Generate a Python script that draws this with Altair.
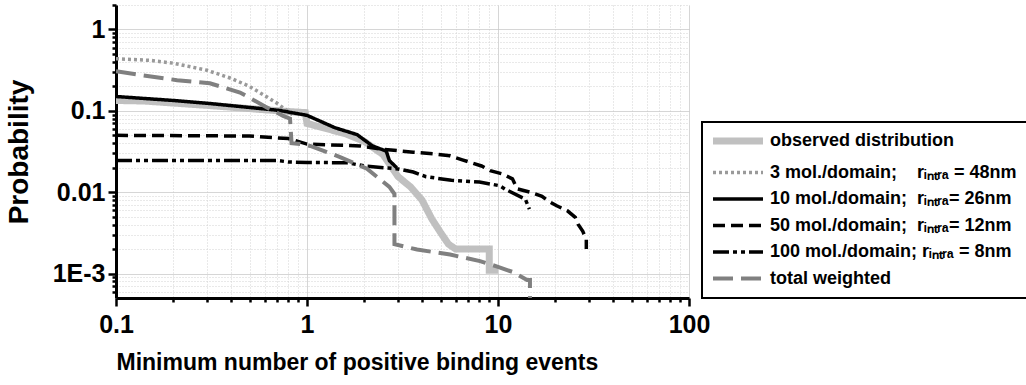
import altair as alt
import pandas as pd

NB = "\u00a0"
RI = "r\u1d62\u2099\u209c\u1d63\u2090"

# ---------------- data ----------------
names = [
    "observed distribution",
    "3 mol./domain;" + NB * 4 + RI + " = 48nm",
    "10 mol./domain;" + NB * 2 + RI + "= 26nm",
    "50 mol./domain;" + NB * 2 + RI + "= 12nm",
    "100 mol./domain; " + RI + " = 8nm",
    "total weighted",
]

obs_x = [0.1, 0.14, 0.31, 0.57, 0.81, 0.98, 1.0, 1.05, 1.6, 2.0, 2.5, 3.0, 3.5, 4.0, 4.5, 5.0, 5.5, 6.0, 9.0, 9.0, 10.0]
obs_y = [0.134, 0.132, 0.116, 0.104, 0.098, 0.095, 0.070, 0.068, 0.052, 0.042, 0.029, 0.0155, 0.0115, 0.0080, 0.0047, 0.0032, 0.0023, 0.0020, 0.0020, 0.0011, 0.0011]

m3_x = [0.1, 0.15, 0.2, 0.3, 0.4, 0.5, 0.6, 0.7, 0.8, 0.85]
m3_y = [0.437, 0.418, 0.385, 0.315, 0.251, 0.200, 0.154, 0.123, 0.097, 0.088]

m10_x = [0.1, 0.2, 0.31, 0.5, 0.72, 1.0, 1.4, 1.83, 2.2, 2.6, 2.7, 2.95]
m10_y = [0.150, 0.134, 0.123, 0.110, 0.101, 0.088, 0.062, 0.051, 0.037, 0.032, 0.0244, 0.020]

m50_x = [0.1, 0.5, 0.8, 1.0, 1.9, 2.4, 3.6, 4.6, 5.6, 6.5, 8.2, 9.1, 10.5, 11.9, 12.6, 14.7, 17.0, 18.3, 20.3, 23.1, 25.4, 26.3, 27.8, 29.0, 29.0]
m50_y = [0.050, 0.049, 0.0456, 0.039, 0.037, 0.034, 0.031, 0.0296, 0.028, 0.025, 0.021, 0.0184, 0.0168, 0.0146, 0.011, 0.0100, 0.0089, 0.0078, 0.0068, 0.0059, 0.0049, 0.0040, 0.0033, 0.0026, 0.0020]

m100_x = [0.1, 0.7, 0.8, 1.0, 1.62, 2.0, 3.0, 3.6, 4.2, 5.7, 8.0, 9.3, 10.2, 10.9, 13.9, 14.6]
m100_y = [0.0245, 0.0245, 0.0235, 0.0232, 0.0230, 0.021, 0.0193, 0.0177, 0.0155, 0.0140, 0.0133, 0.0125, 0.0120, 0.0109, 0.0082, 0.0062]

tot_x = [0.1, 0.138, 0.209, 0.31, 0.446, 0.603, 0.75, 0.815, 0.83, 0.92, 1.04, 1.49, 2.06, 2.7, 2.87, 2.87, 3.77, 5.61, 8.05, 10, 12, 14.2, 14.7, 14.7]
tot_y = [0.306, 0.273, 0.238, 0.218, 0.168, 0.113, 0.0866, 0.080, 0.040, 0.039, 0.037, 0.027, 0.0194, 0.0116, 0.0095, 0.0023, 0.00197, 0.00171, 0.00142, 0.00121, 0.00104, 0.00083, 0.00083, 0.0005]

series_x = [obs_x, m3_x, m10_x, m50_x, m100_x, tot_x]
series_y = [obs_y, m3_y, m10_y, m50_y, m100_y, tot_y]

colors = ["#c0c0c0", "#9a9a9a", "#000000", "#000000", "#000000", "#808080"]
widths = [7, 3.5, 3.5, 3.5, 3.5, 4]
dashes = [[1, 0], [3, 3], [1, 0], [12, 6], [16, 4, 4, 4, 4, 4], [20, 8]]

x_major = [0.1, 1, 10, 100]
x_major_labels = ["0.1", "1", "10", "100"]
y_major = [0.001, 0.01, 0.1, 1]
y_major_labels = ["1E-3", "0.01", "0.1", "1"]

x_ticks = sorted(set([d * m for d in [0.1, 1, 10] for m in range(1, 10)] + [100]))
y_ticks = sorted(set([0.0001 * m for m in range(6, 10)] + [d * m for d in [0.001, 0.01, 0.1] for m in range(1, 10)] + [1, 2]))

rows = []
idx = 0
for name, xs, ys in zip(names, series_x, series_y):
    for xv, yv in zip(xs, ys):
        rows.append({"series": name, "x": xv, "y": yv, "idx": idx})
        idx += 1
df = pd.DataFrame(rows)


def label_expr(vals, labels):
    parts = ["abs(datum.value / %r - 1) < 1e-6 ? '%s'" % (v, l) for v, l in zip(vals, labels)]
    return " : ".join(parts) + " : ''"


MAJOR = "abs(log(datum.value) / LN10 - round(log(datum.value) / LN10)) < 1e-4"
FONT = "Liberation Sans"


def axis(title, vals, labels, ticks, **kw):
    return alt.Axis(
        title=title,
        values=ticks,
        labelExpr=label_expr(vals, labels),
        labelOverlap=False,
        labelFlush=False,
        labelFont=FONT,
        labelFontWeight="bold",
        labelFontSize=25,
        labelColor="black",
        titleFont=FONT,
        titleFontWeight="bold",
        titleColor="black",
        domainColor="black",
        domainWidth=3,
        tickColor="black",
        tickWidth=2.5,
        tickSize={"condition": {"test": MAJOR, "value": 8}, "value": 4},
        grid=True,
        gridColor={"condition": {"test": MAJOR, "value": "#c8c8c8"}, "value": "#d2d2d2"},
        gridDash={"condition": {"test": MAJOR, "value": [1, 0]}, "value": [1, 2]},
        gridWidth=1,
        **kw,
    )


chart = alt.Chart(df).mark_line(clip=True, strokeCap="butt", strokeJoin="miter").encode(
    x=alt.X("x:Q", scale=alt.Scale(type="log", domain=[0.1, 100]),
            axis=axis("Minimum number of positive binding events", x_major, x_major_labels, x_ticks,
                      titleFontSize=23, titleAnchor="start", titlePadding=14, labelPadding=6)),
    y=alt.Y("y:Q", scale=alt.Scale(type="log", domain=[0.0005, 2]),
            axis=axis("Probability", y_major, y_major_labels, y_ticks,
                      titleFontSize=28, titlePadding=19, labelPadding=3)),
    color=alt.Color("series:N", scale=alt.Scale(domain=names, range=colors), legend=alt.Legend(title=None)),
    strokeDash=alt.StrokeDash("series:N", scale=alt.Scale(domain=names, range=dashes), legend=alt.Legend(title=None)),
    strokeWidth=alt.StrokeWidth("series:N", scale=alt.Scale(type="ordinal", domain=names, range=widths),
                                legend=alt.Legend(title=None)),
    order=alt.Order("idx:Q"),
).properties(
    width=573,
    height=293,
    padding={"left": 116, "top": 5, "right": 337, "bottom": 87},
    autosize=alt.AutoSizeParams(type="none"),
).configure_view(
    stroke=None
).configure_legend(
    orient="none",
    legendX=586,
    legendY=117,
    strokeColor="black",
    strokeWidth=2,
    fillColor="white",
    padding=10,
    cornerRadius=0,
    labelFont=FONT,
    labelFontWeight="bold",
    labelFontSize=18,
    labelColor="black",
    labelLimit=400,
    labelOffset=40,
    symbolType="M-1.6,0H8.4",
    symbolSize=100,
    rowPadding=8.5,
)

chart.save("out.html", embed_options={"renderer": "svg", "actions": False})
